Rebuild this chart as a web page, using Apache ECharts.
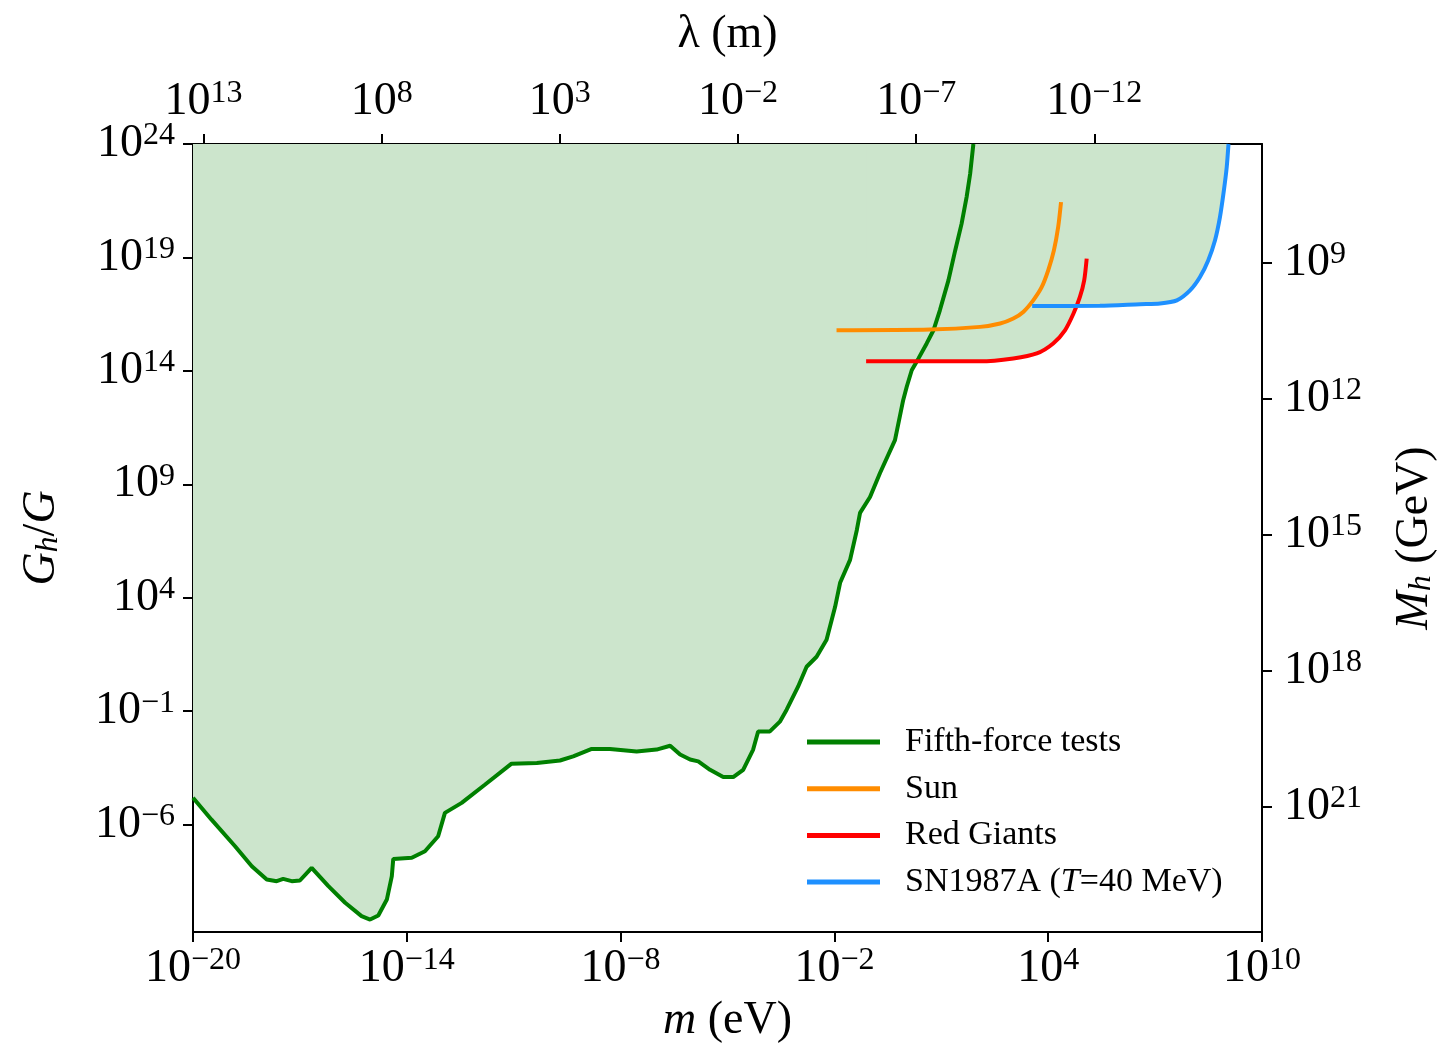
<!DOCTYPE html>
<html>
<head>
<meta charset="utf-8">
<script src="https://cdn.jsdelivr.net/npm/echarts@6/dist/echarts.min.js"></script>
<style>
  html, body { margin: 0; padding: 0; background: #fff; }
  #chart { width: 1448px; height: 1055px; }
</style>
</head>
<body>
<div id="chart"></div>
<script>
// all values are log10: m in eV, Gh/G dimensionless
const fifthForceLogM = [-20.00, -19.48, -18.82, -18.35, -17.93, -17.65, -17.47, -17.23, -17.00, -16.67,
  -16.20, -15.73, -15.27, -15.03, -14.80, -14.56, -14.42, -14.38, -13.86, -13.49,
  -13.12, -12.93, -12.46, -11.81, -11.06, -10.35, -9.70, -9.33, -8.81, -8.30,
  -7.55, -6.99, -6.61, -6.33, -6.05, -5.82, -5.49, -5.12, -4.84, -4.56,
  -4.28, -4.14, -3.81, -3.53, -3.34, -3.02, -2.78, -2.50, -2.22, -1.98,
  -1.84, -1.56, -1.37, -1.28, -1.00, -0.72, -0.30, -0.07, 0.03, 0.17,
  0.36, 0.59, 0.78, 0.96, 1.20, 1.39, 1.57, 1.71, 1.81, 1.90];
const fifthForceLogG = [-4.81, -5.78, -6.95, -7.83, -8.42, -8.49, -8.39, -8.49, -8.46, -7.90,
  -8.71, -9.44, -10.03, -10.18, -10.00, -9.30, -8.27, -7.51, -7.46, -7.17,
  -6.51, -5.48, -5.04, -4.24, -3.31, -3.28, -3.17, -2.99, -2.66, -2.66,
  -2.77, -2.69, -2.52, -2.91, -3.13, -3.21, -3.58, -3.90, -3.90, -3.58,
  -2.69, -1.89, -1.89, -1.46, -0.93, 0.08, 0.96, 1.40, 2.15, 3.60,
  4.66, 5.67, 6.99, 7.74, 8.44, 9.50, 10.95, 12.71, 13.30, 14.03,
  14.55, 15.21, 15.79, 16.67, 17.99, 19.31, 20.49, 21.66, 22.69, 24.00];

const sunLogM = [-1.94, 0.68, 2.09, 2.65, 3.02, 3.30, 3.58, 3.82, 4.00, 4.16, 4.28, 4.36];
const sunLogG = [15.79, 15.82, 15.94, 16.09, 16.31, 16.60, 17.11, 17.70, 18.43, 19.31, 20.34, 21.44];

const redGiantsLogM = [-1.11, 2.09, 3.02, 3.68, 4.14, 4.47, 4.71, 4.89, 5.01, 5.08];
const redGiantsLogG = [14.43, 14.42, 14.55, 14.77, 15.21, 15.79, 16.53, 17.26, 17.99, 18.95];

const snLogM = [3.55, 5.45, 6.58, 7.14, 7.61, 7.98, 8.26, 8.49, 8.68, 8.82, 8.93, 9.01, 9.06];
const snLogG = [16.86, 16.87, 16.94, 16.97, 17.11, 17.55, 18.14, 18.87, 19.75, 20.78, 21.95, 22.98, 24.00];

// tick labels (exponents)
const mTicks = [-20, -14, -8, -2, 4, 10];
const gTicks = [24, 19, 14, 9, 4, -1, -6];
const lambdaTicks = [13, 8, 3, -2, -7, -12];
const massTicks = [9, 12, 15, 18, 21];

const LOG_HBARC = -6.705; // lambda = hbar c / m, hbar c in eV*m
const LOG_MPL = 18.39;    // Mh = Mpl / sqrt(Gh/G), reduced Planck mass in GeV

const mMin = -20, mMax = 10;
const gMin = -10.73, gMax = 24;

const FONT = '"Liberation Serif", "DejaVu Serif", serif';
const FILL = '#cce5cc';

const zip = (xs, ys) => xs.map((x, i) => [x, ys[i]]);

const powLabel = (v) => {
  const n = Math.round(v);
  return '{b|10}{s|' + (n < 0 ? '\u2212' + (-n) : n) + '}';
};

const tickRich = {
  b: { fontFamily: FONT, fontSize: 46, lineHeight: 48, color: '#000' },
  s: { fontFamily: FONT, fontSize: 32, lineHeight: 24, verticalAlign: 'top', color: '#000' },
};

const nameStyle = {
  fontFamily: FONT, fontSize: 46, color: '#000',
  rich: {
    i: { fontFamily: FONT, fontSize: 46, fontStyle: 'italic', color: '#000' },
    sub: { fontFamily: FONT, fontSize: 32, fontStyle: 'italic', lineHeight: 30, verticalAlign: 'bottom', color: '#000' },
  },
};

function makeAxis(ticks, extra) {
  return Object.assign({
    type: 'value',
    splitLine: { show: false },
    axisLine: { show: true, onZero: false, lineStyle: { color: '#000', width: 2 } },
    axisTick: { show: true, length: 10, customValues: ticks, lineStyle: { color: '#000', width: 2 } },
    axisLabel: { customValues: ticks, formatter: powLabel, rich: tickRich, margin: 13 },
    nameLocation: 'middle',
    nameTextStyle: nameStyle,
  }, extra);
}

const curves = [
  { name: 'Fifth-force tests', color: '#008000', data: zip(fifthForceLogM, fifthForceLogG), fill: true, smooth: false },
  { name: 'Sun', color: '#ff8c00', data: zip(sunLogM, sunLogG), fill: false, smooth: 0.25 },
  { name: 'Red Giants', color: '#ff0000', data: zip(redGiantsLogM, redGiantsLogG), fill: true, smooth: 0.25 },
  { name: 'SN1987A (T=40 MeV)', color: '#1e90ff', data: zip(snLogM, snLogG), fill: true, smooth: 0.25 },
];

// excluded region: everything above each bound, opaque so overlaps don't stack
const fillSeries = curves.filter(c => c.fill).map(c => ({
  type: 'line',
  data: c.data,
  smooth: c.smooth,
  symbol: 'none',
  silent: true,
  z: 1,
  lineStyle: { width: 0 },
  areaStyle: { color: FILL, opacity: 1, origin: 'end' },
}));

const lineSeries = curves.map(c => ({
  type: 'line',
  name: c.name,
  data: c.data,
  smooth: c.smooth,
  symbol: 'none',
  z: 3,
  lineStyle: { color: c.color, width: 4 },
  itemStyle: { color: c.color },
}));

const chart = echarts.init(document.getElementById('chart'));
chart.setOption({
  animation: false,
  backgroundColor: '#fff',
  grid: { left: 193, right: 186, top: 144, bottom: 123 },
  xAxis: [
    makeAxis(mTicks, {
      position: 'bottom', min: mMin, max: mMax,
      name: '{i|m} (eV)', nameGap: 66,
    }),
    makeAxis(lambdaTicks, {
      position: 'top', inverse: true,
      min: LOG_HBARC - mMax, max: LOG_HBARC - mMin,
      name: '\u03bb (m)', nameGap: 86,
      axisLabel: { customValues: lambdaTicks, formatter: powLabel, rich: tickRich, margin: 18 },
    }),
  ],
  yAxis: [
    makeAxis(gTicks, {
      position: 'left', min: gMin, max: gMax,
      name: '{i|G}{sub|h}/{i|G}', nameRotate: 90, nameGap: 128,
      axisLabel: { customValues: gTicks, formatter: powLabel, rich: tickRich, margin: 18 },
    }),
    makeAxis(massTicks, {
      position: 'right', inverse: true,
      min: LOG_MPL - gMax / 2, max: LOG_MPL - gMin / 2,
      name: '{i|M}{sub|h} (GeV)', nameRotate: 90, nameGap: 130,
      axisLabel: { customValues: massTicks, formatter: powLabel, rich: tickRich, margin: 22 },
    }),
  ],
  legend: {
    data: curves.map(c => c.name),
    orient: 'vertical',
    left: 802,
    top: 719,
    icon: 'rect',
    itemWidth: 73,
    itemHeight: 5,
    itemGap: 10.7,
    selectedMode: false,
    formatter: (name) => name.replace('T=', '{i|T}='),
    textStyle: {
      fontFamily: FONT, fontSize: 34, lineHeight: 36, color: '#000',
      padding: [0, 0, 0, 20],
      rich: { i: { fontFamily: FONT, fontSize: 34, fontStyle: 'italic', color: '#000' } },
    },
  },
  series: fillSeries.concat(lineSeries),
});
</script>
</body>
</html>
